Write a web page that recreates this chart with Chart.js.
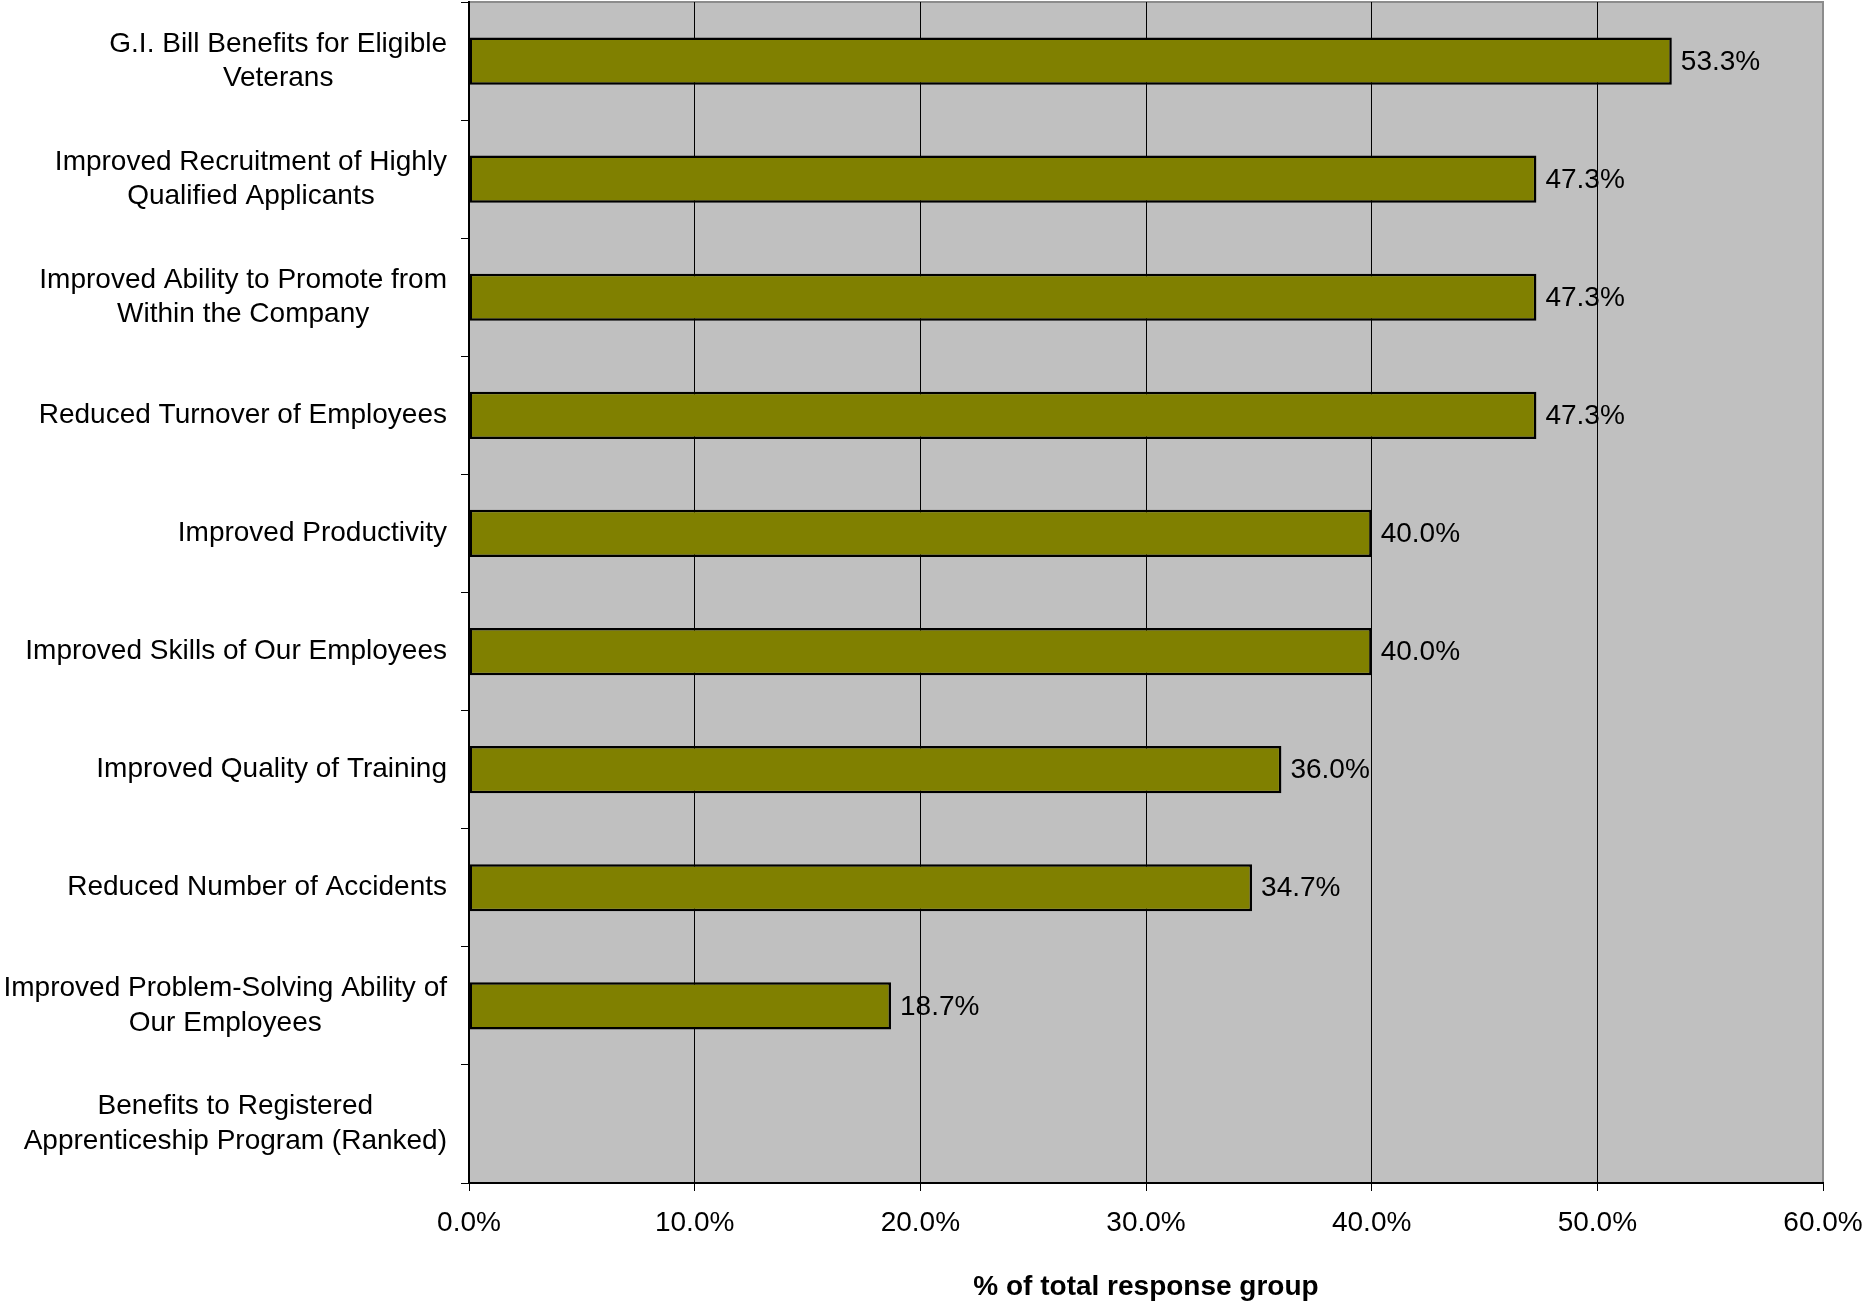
<!DOCTYPE html>
<html>
<head>
<meta charset="utf-8">
<title>Benefits to Registered Apprenticeship Program</title>
<script src="https://cdn.jsdelivr.net/npm/chart.js@4.4.1/dist/chart.umd.min.js"></script>
<style>
  html, body { margin: 0; padding: 0; background: #fff; }
  #wrap { width: 1862px; height: 1301px; position: relative; }
</style>
</head>
<body>
<div id="wrap"><canvas id="benefitsChart"></canvas></div>
<script>
// Categories (top to bottom), each split into its printed lines
const categories = [
  ['G.I. Bill Benefits for Eligible', 'Veterans'],
  ['Improved Recruitment of Highly', 'Qualified Applicants'],
  ['Improved Ability to Promote from', 'Within the Company'],
  ['Reduced Turnover of Employees'],
  ['Improved Productivity'],
  ['Improved Skills of Our Employees'],
  ['Improved Quality of Training'],
  ['Reduced Number of Accidents'],
  ['Improved Problem-Solving Ability of', 'Our Employees'],
  ['Benefits to Registered', 'Apprenticeship Program (Ranked)'],
];

// Share of the response group, in percent
const shares = [53.3, 47.3, 47.3, 47.3, 40.0, 40.0, 36.0, 34.7, 18.7, null];

const xTicks = [0, 10, 20, 30, 40, 50, 60];
const xTitle = '% of total response group';

const FONT = "'Liberation Sans', Arial, sans-serif";

// grey plot background + grey frame on top/right
const plotArea = {
  id: 'plotArea',
  beforeDraw(chart) {
    const { ctx, chartArea: a } = chart;
    ctx.save();
    ctx.fillStyle = '#c0c0c0';
    ctx.fillRect(a.left, a.top, a.right - a.left, a.bottom - a.top);
    ctx.strokeStyle = '#8c8c8c';
    ctx.lineWidth = 2;
    ctx.beginPath();
    ctx.moveTo(a.left, a.top);
    ctx.lineTo(a.right, a.top);
    ctx.lineTo(a.right, a.bottom);
    ctx.stroke();
    ctx.restore();
  }
};

// category labels: block right-aligned to the axis, lines centred in the block
const categoryLabels = {
  id: 'categoryLabels',
  afterDraw(chart) {
    const { ctx } = chart;
    const y = chart.scales.y;
    const rightEdge = y.right - 22;
    const lineH = 34.5;
    ctx.save();
    ctx.font = '28px ' + FONT;
    ctx.fillStyle = '#000';
    ctx.textAlign = 'center';
    ctx.textBaseline = 'middle';
    categories.forEach((lines, i) => {
      const cy = y.getPixelForTick(i);
      const w = Math.max(...lines.map(l => ctx.measureText(l).width));
      const cx = rightEdge - w / 2;
      lines.forEach((l, j) => {
        ctx.fillText(l, cx, cy + (j - (lines.length - 1) / 2) * lineH);
      });
    });
    ctx.restore();
  }
};

// value labels at the end of each bar
const valueLabels = {
  id: 'valueLabels',
  afterDatasetsDraw(chart) {
    const { ctx } = chart;
    const meta = chart.getDatasetMeta(0);
    ctx.save();
    ctx.font = '28px ' + FONT;
    ctx.fillStyle = '#000';
    ctx.textAlign = 'left';
    ctx.textBaseline = 'middle';
    meta.data.forEach((bar, i) => {
      if (shares[i] == null) return;
      ctx.fillText(shares[i].toFixed(1) + '%', bar.x + 9, bar.y + 1);
    });
    ctx.restore();
  }
};

new Chart(document.getElementById('benefitsChart'), {
  type: 'bar',
  data: {
    labels: categories.map(l => l.join(' ')),
    datasets: [{
      data: shares,
      backgroundColor: '#808000',
      borderColor: '#000',
      borderWidth: 2.5,
      borderSkipped: false,
      barPercentage: 0.4,
      categoryPercentage: 1,
    }]
  },
  options: {
    indexAxis: 'y',
    responsive: true,
    maintainAspectRatio: false,
    animation: false,
    layout: { padding: { top: 2, right: 39, left: 0, bottom: 0 } },
    plugins: {
      legend: { display: false },
      tooltip: { enabled: false },
    },
    scales: {
      x: {
        min: 0,
        max: 60,
        afterFit: s => {
          s.height = 118;
          s.paddingLeft = 0;
          s.paddingRight = 0;
        },
        afterBuildTicks: s => { s.ticks = xTicks.map(v => ({ value: v })); },
        ticks: {
          font: { family: FONT, size: 28 },
          color: '#000',
          padding: 15,
          maxRotation: 0,
          callback: v => v.toFixed(1) + '%',
        },
        grid: {
          color: ctx => (ctx.tick && ctx.tick.value === 60 ? '#8c8c8c' : '#000'),
          lineWidth: 1,
          tickLength: 8,
          tickColor: '#000',
        },
        border: { color: '#000', width: 2 },
        title: {
          display: true,
          text: xTitle,
          font: { family: FONT, size: 28, weight: 'bold' },
          color: '#000',
          padding: { top: 0, bottom: -3 },
        },
      },
      y: {
        afterFit: s => {
          s.width = 469;
          s.paddingTop = 0;
          s.paddingBottom = 0;
        },
        ticks: { color: 'transparent', font: { size: 1 } },
        grid: {
          offset: true,
          drawOnChartArea: false,
          tickLength: 8,
          color: '#000',
        },
        border: { color: '#000', width: 2 },
      }
    }
  },
  plugins: [plotArea, categoryLabels, valueLabels]
});
</script>
</body>
</html>
